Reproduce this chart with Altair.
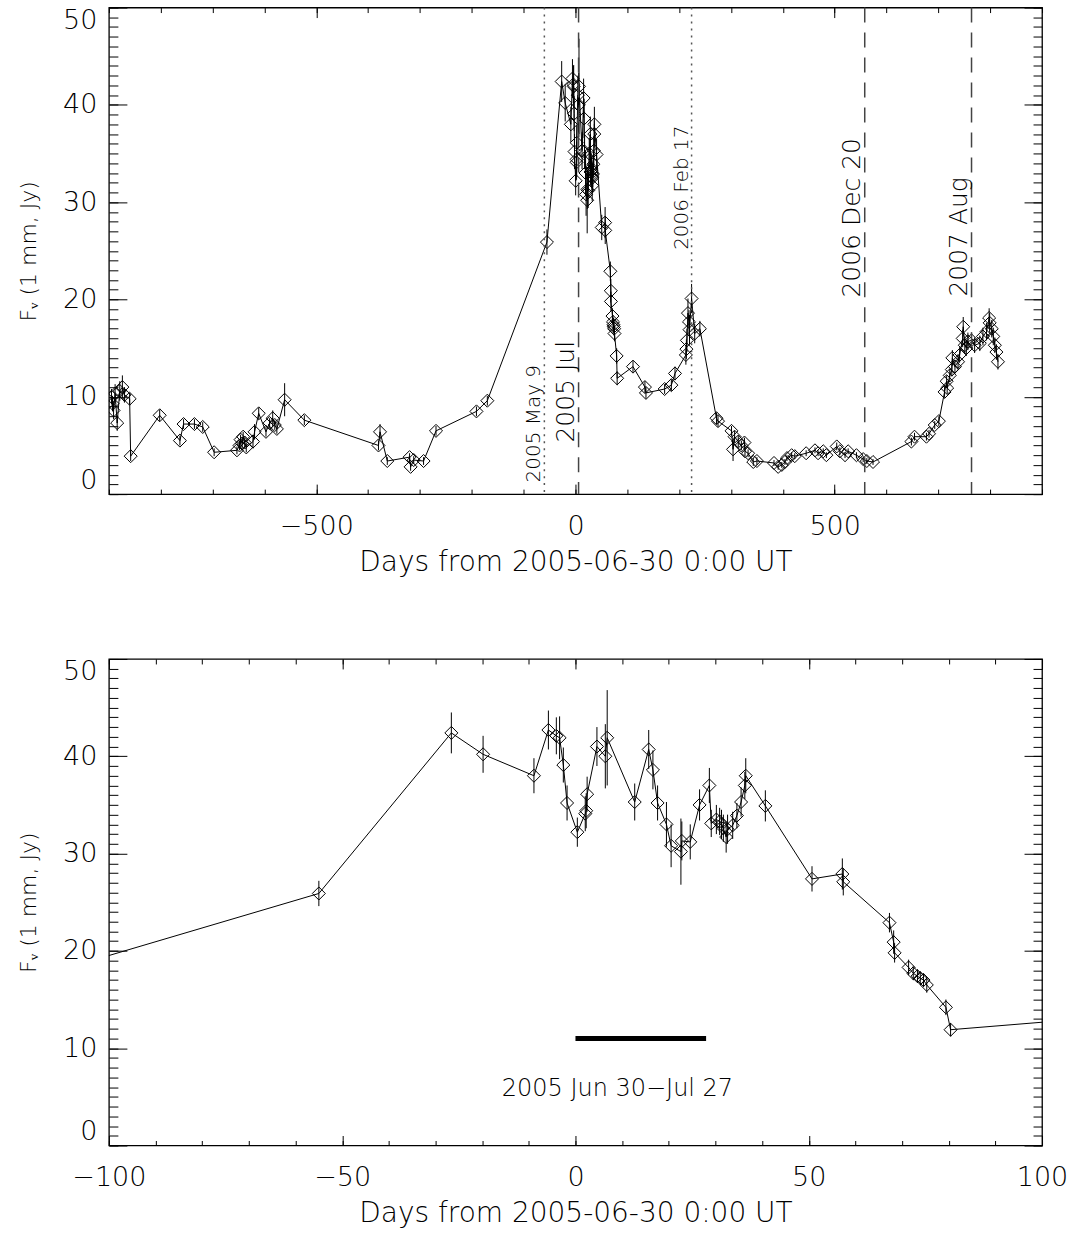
import altair as alt
import pandas as pd

# ---------------- data ----------------
days = [-895, -893, -891, -888, -884, -879, -874, -870, -860, -858,
        -802, -763, -756, -735, -719, -697, -653, -648, -646, -643,
        -641, -638, -635, -622, -619, -611, -597, -590, -584, -580,
        -576, -561, -523, -380, -377, -363, -320, -318, -312, -293,
        -269, -191, -170, -55,
        -26.6, -19.8, -8.9, -5.8, -4.1, -3.4, -2.6, -1.8, 0.4, 2.1,
        2.3, 2.5, 4.6, 6.4, 6.8, 12.7, 15.7, 16.6, 17.6, 19.5,
        20.5, 22.6, 22.8, 24.6, 26.6, 28.7, 29.1, 30.2, 30.9, 31.3,
        31.7, 32.3, 32.6, 33.7, 34.6, 35.5, 36.3, 36.5, 40.7, 50.7,
        57.2, 57.4, 67.3, 68.2, 68.4, 71.4, 72.4, 73.3, 73.9, 74.6,
        75.3, 79.4, 80.4,
        111, 134, 136, 172, 185, 192, 213, 214, 215, 217,
        219, 220, 224, 230, 240, 272, 275, 301, 304, 307,
        314, 320, 326, 327, 333, 343, 350, 383, 391, 398,
        404, 408, 417, 423, 445, 462, 468, 478, 484, 504,
        510, 520, 526, 542, 555, 562, 574, 648, 654, 677,
        682, 693, 701, 712, 716, 717, 722, 726, 727, 732,
        738, 741, 747, 748, 751, 754, 757, 764, 770, 780,
        786, 793, 798, 799, 803, 806, 809, 812, 815]
flux = [10.0, 9.3, 8.6, 10.3, 7.3, 10.6, 11.0, 10.2, 9.8, 3.9,
        8.1, 5.5, 7.2, 7.2, 6.9, 4.3, 4.5, 5.0, 5.6, 5.2,
        5.9, 5.3, 4.8, 5.4, 6.4, 8.3, 6.4, 7.3, 7.8, 7.1,
        6.7, 9.7, 7.6, 5.0, 6.4, 3.4, 3.8, 2.8, 3.5, 3.4,
        6.5, 8.5, 9.6, 25.9,
        42.4, 40.2, 38.0, 42.7, 42.1, 41.9, 39.1, 35.2, 32.2, 34.1,
        34.4, 36.1, 41.0, 40.0, 41.9, 35.3, 40.7, 38.6, 35.2, 33.0,
        30.8, 30.2, 31.3, 31.2, 35.0, 37.0, 33.1, 33.5, 33.3, 33.0,
        32.6, 31.7, 32.5, 32.9, 33.9, 35.3, 37.0, 38.0, 34.9, 27.4,
        27.9, 27.1, 22.9, 20.9, 19.8, 18.3, 17.7, 17.4, 17.2, 17.0,
        16.5, 14.2, 11.9,
        13.1, 11.0, 10.4, 10.8, 11.2, 12.4, 14.3, 14.9, 15.8, 18.6,
        17.7, 16.9, 20.1, 16.5, 17.0, 7.8, 7.5, 6.5, 4.6, 5.9,
        5.4, 5.0, 5.3, 4.4, 4.2, 3.3, 3.4, 3.2, 2.8, 3.0,
        3.3, 3.7, 4.0, 3.9, 4.2, 4.5, 4.2, 4.4, 4.0, 4.9,
        4.4, 4.0, 4.4, 4.0, 3.6, 3.4, 3.3, 5.4, 5.9, 5.9,
        6.2, 7.1, 7.5, 10.5, 11.6, 10.9, 12.2, 12.8, 14.0, 13.1,
        13.6, 14.3, 16.0, 17.2, 15.3, 15.0, 15.7, 15.8, 15.3, 15.5,
        16.2, 16.7, 18.1, 17.6, 17.0, 16.2, 15.3, 14.6, 13.6]
err = [0.8, 0.8, 0.9, 1.0, 0.8, 1.0, 1.2, 0.8, 0.6, 0.5,
       0.6, 0.5, 0.5, 0.5, 0.5, 0.4, 0.4, 0.5, 0.5, 0.5,
       0.5, 0.5, 0.5, 0.7, 0.8, 0.6, 0.5, 0.5, 0.8, 0.5,
       0.5, 1.7, 0.5, 0.5, 0.8, 0.4, 0.4, 0.4, 0.4, 0.4,
       0.5, 0.5, 0.5, 1.3,
       2.1, 1.9, 1.8, 2.0, 1.9, 2.2, 1.8, 1.8, 1.5, 1.8,
       1.8, 1.8, 2.0, 3.3, 4.9, 1.9, 2.0, 2.0, 1.8, 2.3,
       2.2, 3.4, 2.0, 1.8, 1.6, 1.8, 1.4, 1.5, 1.4, 1.5,
       1.4, 1.6, 1.5, 1.4, 1.3, 1.5, 1.4, 1.8, 1.6, 1.3,
       1.6, 1.4, 1.0, 1.2, 1.0, 0.8, 0.7, 0.7, 0.7, 0.7,
       0.8, 0.8, 0.7,
       0.6, 0.6, 0.6, 0.5, 0.6, 0.7, 1.0, 1.0, 1.2, 1.5,
       1.2, 1.5, 1.5, 1.0, 0.8, 0.6, 0.6, 0.5, 1.2, 0.6,
       0.6, 0.5, 0.5, 0.5, 0.4, 0.4, 0.4, 0.3, 0.3, 0.3,
       0.3, 0.3, 0.3, 0.3, 0.3, 0.3, 0.3, 0.3, 0.3, 0.4,
       0.4, 0.3, 0.3, 0.3, 0.3, 0.3, 0.3, 0.4, 0.4, 0.4,
       0.4, 0.4, 0.5, 0.6, 0.6, 0.6, 0.7, 0.7, 0.8, 0.7,
       0.8, 0.8, 0.9, 1.0, 0.9, 0.8, 0.9, 0.8, 0.8, 0.8,
       0.9, 0.9, 1.0, 1.0, 0.9, 0.9, 0.8, 0.8, 0.8]

# reference epochs (top panel)
dotted_days = [-60, 224]
dashed_days = [6, 558, 764]
epoch_labels = ["2005 May 9", "2005 Jul", "2006 Feb 17", "2006 Dec 20", "2007 Aug"]
epoch_label_days = [-60, 6, 224, 558, 764]
epoch_label_start = [1.2, 5.3, 25.1, 20.2, 20.3]
epoch_label_size = [20, 25, 20, 25, 25]

# campaign bar (bottom panel)
bar_start = [0]
bar_end = [28]
bar_level = [11]
bar_label = ["2005 Jun 30\u2212Jul 27"]
bar_label_day = [9]
bar_label_flux = [5.8]

# axis ticks
top_x_major = [-500, 0, 500]
top_x_minor = list(range(-900, 901, 100))
bot_x_major = [-100, -50, 0, 50, 100]
bot_x_minor = list(range(-100, 101, 10))
y_major = [0, 10, 20, 30, 40, 50]
y_minor = list(range(0, 51, 1))

# ---------------- build ----------------
FONT = "DejaVu Sans"
FW = 300
W, H = 934, 487

df = pd.DataFrame({"day": days, "flux": flux})
df["lo"] = [f - e for f, e in zip(flux, err)]
df["hi"] = [f + e for f, e in zip(flux, err)]


def panel(xdom, xmajor, xminor, with_epochs, with_bar):
    xsc = alt.Scale(domain=xdom, nice=False, zero=False)
    ysc = alt.Scale(domain=[0, 50], nice=False, zero=False)

    def inward(orient, values, size):
        return alt.Axis(orient=orient, offset=-(H if orient in ("top", "bottom") else W),
                        values=values, tickSize=size, tickColor="black", tickWidth=1,
                        labels=False, domain=False, grid=False, title=None)

    x_lab = alt.Axis(orient="bottom", values=xmajor, format="d", labelFlush=False,
                     labelFont=FONT, labelFontSize=27, labelFontWeight=FW,
                     labelColor="black", labelPadding=19,
                     ticks=False, domain=False, grid=False,
                     title="Days from 2005-06-30 0:00 UT", titleFont=FONT, titleFontSize=28,
                     titleFontWeight=FW, titleColor="black", titlePadding=9)
    y_lab = alt.Axis(orient="left", values=y_major, format="d", labelFlush=True,
                     labelFont=FONT, labelFontSize=27, labelFontWeight=FW,
                     labelColor="black", labelPadding=12,
                     ticks=False, domain=False, grid=False,
                     title="F\u1d65 (1 mm, Jy)", titleFont=FONT, titleFontSize=22,
                     titleFontWeight=FW, titleColor="black", titlePadding=22)

    base = alt.Chart(df)
    line = base.mark_line(color="black", strokeWidth=1, clip=True).encode(
        x=alt.X("day:Q", scale=xsc, axis=x_lab),
        y=alt.Y("flux:Q", scale=ysc, axis=y_lab))
    bars = base.mark_rule(color="black", strokeWidth=1, clip=True).encode(
        x=alt.X("day:Q", scale=xsc, axis=inward("top", xmajor, 10)),
        y=alt.Y("lo:Q", scale=ysc, axis=inward("right", y_major, 18)),
        y2="hi:Q")
    pts = base.mark_point(shape="diamond", size=170, filled=False, color="black",
                          strokeWidth=1, opacity=1, clip=True).encode(
        x=alt.X("day:Q", scale=xsc, axis=inward("top", xminor, 5)),
        y=alt.Y("flux:Q", scale=ysc, axis=inward("right", y_minor, 9)))
    ghost1 = base.mark_point(opacity=0, clip=True).encode(
        x=alt.X("day:Q", scale=xsc, axis=inward("bottom", xmajor, 10)),
        y=alt.Y("flux:Q", scale=ysc, axis=inward("left", y_major, 18)))
    ghost2 = base.mark_point(opacity=0, clip=True).encode(
        x=alt.X("day:Q", scale=xsc, axis=inward("bottom", xminor, 5)),
        y=alt.Y("flux:Q", scale=ysc, axis=inward("left", y_minor, 9)))

    layers = [line, bars, pts, ghost1, ghost2]

    if with_epochs:
        dot = alt.Chart(pd.DataFrame({"d": dotted_days})).mark_rule(
            color="#555555", strokeWidth=1.5, strokeDash=[2, 5]).encode(
            x=alt.X("d:Q", scale=xsc, axis=None))
        dash = alt.Chart(pd.DataFrame({"d": dashed_days})).mark_rule(
            color="#444444", strokeWidth=1.5, strokeDash=[15, 10]).encode(
            x=alt.X("d:Q", scale=xsc, axis=None))
        lab = alt.Chart(pd.DataFrame({"t": epoch_labels, "d": epoch_label_days,
                                      "f": epoch_label_start, "s": epoch_label_size})).mark_text(
            angle=270, align="left", baseline="bottom", font=FONT, fontWeight=FW,
            color="black").encode(
            x=alt.X("d:Q", scale=xsc, axis=None),
            y=alt.Y("f:Q", scale=ysc, axis=None),
            size=alt.Size("s:Q", scale=None, legend=None),
            text="t:N")
        layers += [dot, dash, lab]

    if with_bar:
        bdf = pd.DataFrame({"a": bar_start, "b": bar_end, "y": bar_level})
        bar = alt.Chart(bdf).mark_rule(color="black", strokeWidth=5).encode(
            x=alt.X("a:Q", scale=xsc, axis=None), x2="b:Q",
            y=alt.Y("y:Q", scale=ysc, axis=None))
        tdf = pd.DataFrame({"t": bar_label, "d": bar_label_day, "f": bar_label_flux})
        txt = alt.Chart(tdf).mark_text(font=FONT, fontSize=24, fontWeight=FW, color="black",
                                       align="center", baseline="middle").encode(
            x=alt.X("d:Q", scale=xsc, axis=None),
            y=alt.Y("f:Q", scale=ysc, axis=None),
            text="t:N")
        layers += [bar, txt]

    return alt.layer(*layers).resolve_axis(x="independent", y="independent").properties(
        width=W, height=H)


top = panel([-900, 900], top_x_major, top_x_minor, True, False)
bottom = panel([-100, 100], bot_x_major, bot_x_minor, False, True)

chart = alt.vconcat(top, bottom, spacing=80).properties(
    padding={"left": 16, "top": 5, "right": 5, "bottom": 0},
    background="white"
).configure_view(stroke="black", strokeWidth=1.3)

chart.save("out.html", embed_options={"renderer": "svg", "actions": False})
